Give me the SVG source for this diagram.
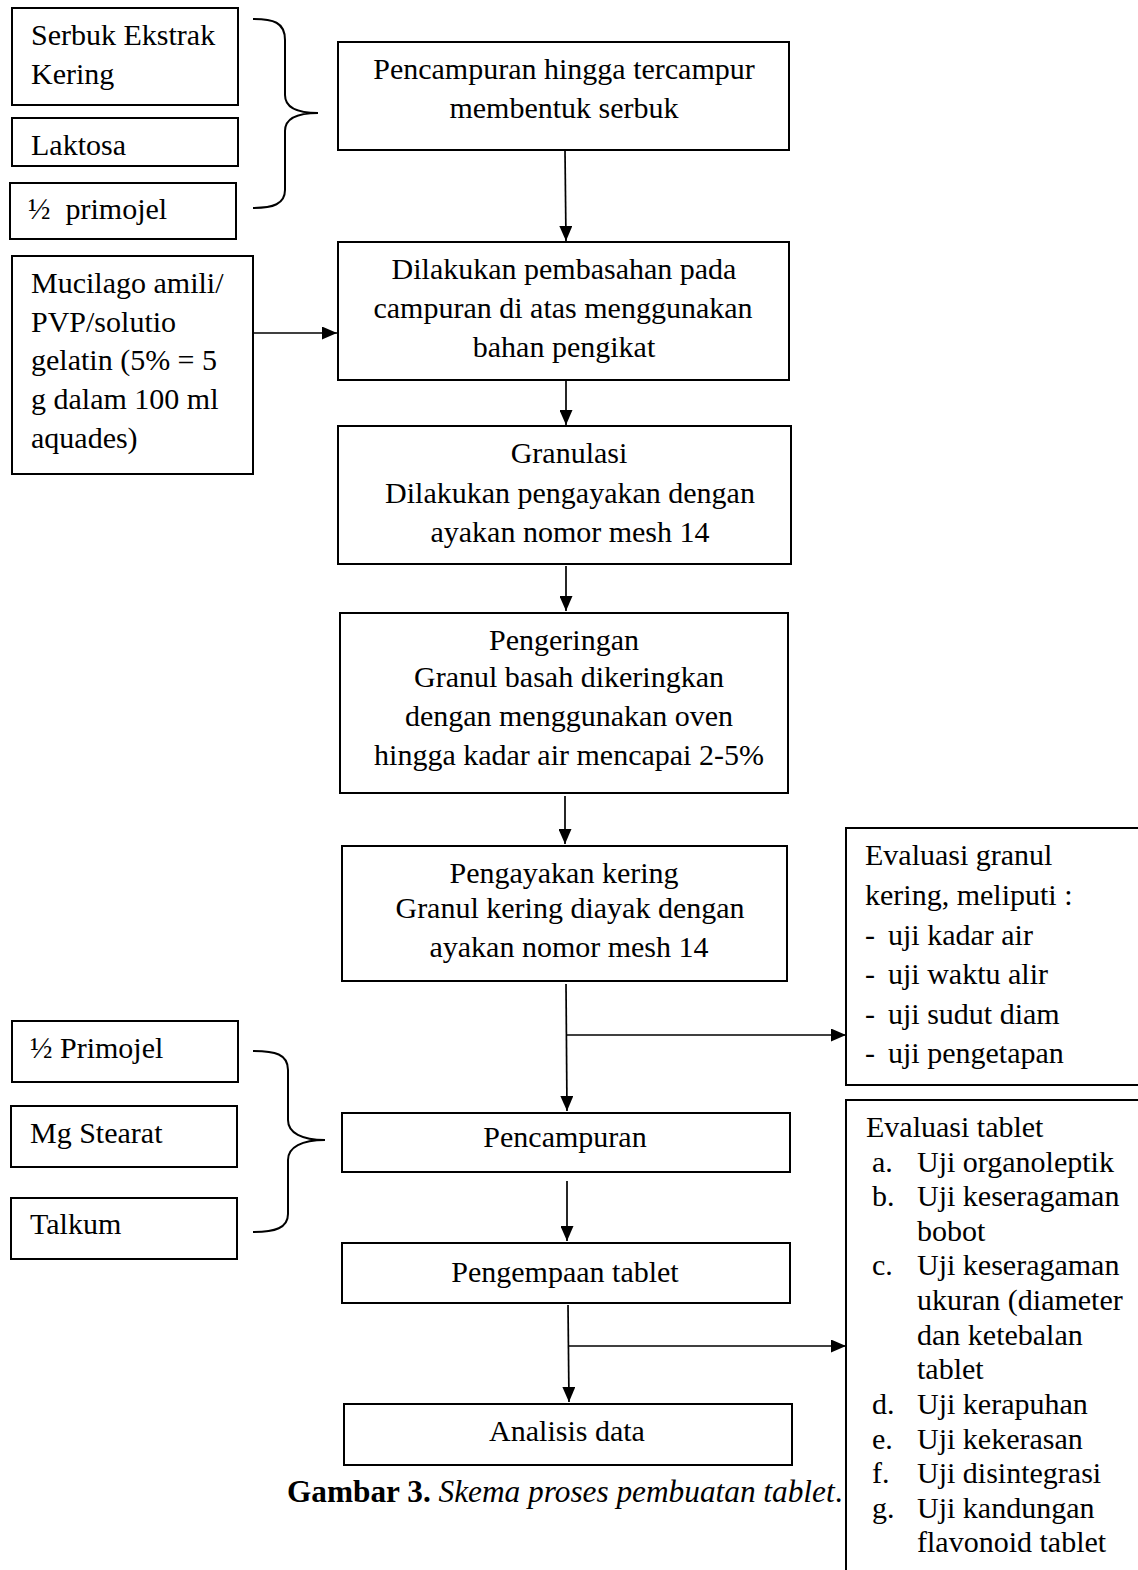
<svg xmlns="http://www.w3.org/2000/svg" width="1138" height="1570" viewBox="0 0 1138 1570">
<style>
  .box { fill: #ffffff; stroke: #000000; stroke-width: 2; }
  .t { font-family: "Liberation Serif", "Times New Roman", serif; font-size: 30px; fill: #000000; }
  .c { text-anchor: middle; }
  .cap { font-size: 31.3px; }
  .ln { fill: none; stroke: #000000; stroke-width: 1.7; }
  .br { fill: none; stroke: #000000; stroke-width: 2; }
</style>
<defs>
  <marker id="ah" markerWidth="15" markerHeight="13" refX="15" refY="6.5" orient="auto" markerUnits="userSpaceOnUse">
    <path d="M0,0 L15,6.5 L0,13 z" fill="#000000"/>
  </marker>
</defs>
<rect x="0" y="0" width="1138" height="1570" fill="#ffffff"/>

<g id="connectors">
  <line class="ln" x1="565" y1="151" x2="566" y2="241" marker-end="url(#ah)"/>
  <line class="ln" x1="253" y1="333" x2="337" y2="333" marker-end="url(#ah)"/>
  <line class="ln" x1="566" y1="381" x2="566" y2="425" marker-end="url(#ah)"/>
  <line class="ln" x1="566" y1="566" x2="566" y2="611" marker-end="url(#ah)"/>
  <line class="ln" x1="565" y1="796" x2="565" y2="844" marker-end="url(#ah)"/>
  <line class="ln" x1="566" y1="984" x2="567" y2="1111" marker-end="url(#ah)"/>
  <line class="ln" x1="567" y1="1035" x2="846" y2="1035" marker-end="url(#ah)"/>
  <line class="ln" x1="567" y1="1181" x2="567" y2="1241" marker-end="url(#ah)"/>
  <line class="ln" x1="568" y1="1305" x2="569" y2="1402" marker-end="url(#ah)"/>
  <line class="ln" x1="568" y1="1346" x2="846" y2="1346" marker-end="url(#ah)"/>
  <path class="br" d="M253,19 C273,19 285,22 285,40 L285,95 C285,108 298,113 318,113 C298,113 285,118 285,131 L285,190 C285,204 273,208 253,208"/>
  <path class="br" d="M253,1051 C275,1051 288,1054 288,1070 L288,1120 C288,1133 302,1140 325,1140 C302,1140 288,1147 288,1160 L288,1214 C288,1228 275,1232 253,1232"/>
</g>

<g id="n-serbuk">
  <rect class="box" x="12" y="8" width="226" height="97"/>
  <text class="t" x="31" y="45">Serbuk Ekstrak</text>
  <text class="t" x="31" y="84">Kering</text>
</g>
<g id="n-laktosa">
  <rect class="box" x="12" y="118" width="226" height="48"/>
  <text class="t" x="31" y="155">Laktosa</text>
</g>
<g id="n-primojel1">
  <rect class="box" x="10" y="183" width="226" height="56"/>
  <text class="t" x="28" y="219">½&#160; primojel</text>
</g>
<g id="n-mucilago">
  <rect class="box" x="12" y="256" width="241" height="218"/>
  <text class="t" x="31" y="293">Mucilago amili/</text>
  <text class="t" x="31" y="332">PVP/solutio</text>
  <text class="t" x="31" y="370">gelatin (5% = 5</text>
  <text class="t" x="31" y="409">g dalam 100 ml</text>
  <text class="t" x="31" y="448">aquades)</text>
</g>

<g id="n-pencampuran1">
  <rect class="box" x="338" y="42" width="451" height="108"/>
  <text class="t c" x="564" y="79">Pencampuran hingga tercampur</text>
  <text class="t c" x="564" y="118">membentuk serbuk</text>
</g>
<g id="n-pembasahan">
  <rect class="box" x="338" y="242" width="451" height="138"/>
  <text class="t c" x="564" y="279">Dilakukan pembasahan pada</text>
  <text class="t c" x="563" y="318">campuran di atas menggunakan</text>
  <text class="t c" x="564" y="357">bahan pengikat</text>
</g>
<g id="n-granulasi">
  <rect class="box" x="338" y="426" width="453" height="138"/>
  <text class="t c" x="569" y="463">Granulasi</text>
  <text class="t c" x="570" y="503">Dilakukan pengayakan dengan</text>
  <text class="t c" x="570" y="542">ayakan nomor mesh 14</text>
</g>
<g id="n-pengeringan">
  <rect class="box" x="340" y="613" width="448" height="180"/>
  <text class="t c" x="564" y="650">Pengeringan</text>
  <text class="t c" x="569" y="687">Granul basah dikeringkan</text>
  <text class="t c" x="569" y="726">dengan menggunakan oven</text>
  <text class="t c" x="569" y="765">hingga kadar air mencapai 2-5%</text>
</g>
<g id="n-pengayakan">
  <rect class="box" x="342" y="846" width="445" height="135"/>
  <text class="t c" x="564" y="883">Pengayakan kering</text>
  <text class="t c" x="570" y="918">Granul kering diayak dengan</text>
  <text class="t c" x="569" y="957">ayakan nomor mesh 14</text>
</g>
<g id="n-eval-granul">
  <rect class="box" x="846" y="828" width="300" height="257"/>
  <text class="t" x="865" y="865">Evaluasi granul</text>
  <text class="t" x="865" y="905">kering, meliputi :</text>
  <text class="t" x="865" y="945">-</text><text class="t" x="888" y="945">uji kadar air</text>
  <text class="t" x="865" y="984">-</text><text class="t" x="888" y="984">uji waktu alir</text>
  <text class="t" x="865" y="1024">-</text><text class="t" x="888" y="1024">uji sudut diam</text>
  <text class="t" x="865" y="1063">-</text><text class="t" x="888" y="1063">uji pengetapan</text>
</g>

<g id="n-primojel2">
  <rect class="box" x="12" y="1021" width="226" height="61"/>
  <text class="t" x="30" y="1058">½ Primojel</text>
</g>
<g id="n-mgstearat">
  <rect class="box" x="11" y="1106" width="226" height="61"/>
  <text class="t" x="30" y="1143">Mg Stearat</text>
</g>
<g id="n-talkum">
  <rect class="box" x="11" y="1198" width="226" height="61"/>
  <text class="t" x="30" y="1234">Talkum</text>
</g>

<g id="n-pencampuran2">
  <rect class="box" x="342" y="1113" width="448" height="59"/>
  <text class="t c" x="565" y="1147">Pencampuran</text>
</g>
<g id="n-pengempaan">
  <rect class="box" x="342" y="1243" width="448" height="60"/>
  <text class="t c" x="565" y="1282">Pengempaan tablet</text>
</g>
<g id="n-analisis">
  <rect class="box" x="344" y="1404" width="448" height="61"/>
  <text class="t c" x="567" y="1441">Analisis data</text>
</g>

<g id="n-eval-tablet">
  <rect class="box" x="846" y="1100" width="300" height="500"/>
  <text class="t" x="866" y="1137">Evaluasi tablet</text>
  <text class="t" x="872" y="1172">a.</text><text class="t" x="917" y="1172">Uji organoleptik</text>
  <text class="t" x="872" y="1206">b.</text><text class="t" x="917" y="1206">Uji keseragaman</text>
  <text class="t" x="917" y="1241">bobot</text>
  <text class="t" x="872" y="1275">c.</text><text class="t" x="917" y="1275">Uji keseragaman</text>
  <text class="t" x="917" y="1310">ukuran (diameter</text>
  <text class="t" x="917" y="1345">dan ketebalan</text>
  <text class="t" x="917" y="1379">tablet</text>
  <text class="t" x="872" y="1414">d.</text><text class="t" x="917" y="1414">Uji kerapuhan</text>
  <text class="t" x="872" y="1449">e.</text><text class="t" x="917" y="1449">Uji kekerasan</text>
  <text class="t" x="872" y="1483">f.</text><text class="t" x="917" y="1483">Uji disintegrasi</text>
  <text class="t" x="872" y="1518">g.</text><text class="t" x="917" y="1518">Uji kandungan</text>
  <text class="t" x="917" y="1552">flavonoid tablet</text>
</g>

<g id="caption">
  <text class="t cap" x="287" y="1502"><tspan font-weight="bold">Gambar 3.</tspan> <tspan font-style="italic">Skema proses pembuatan tablet</tspan>.</text>
</g>
</svg>
